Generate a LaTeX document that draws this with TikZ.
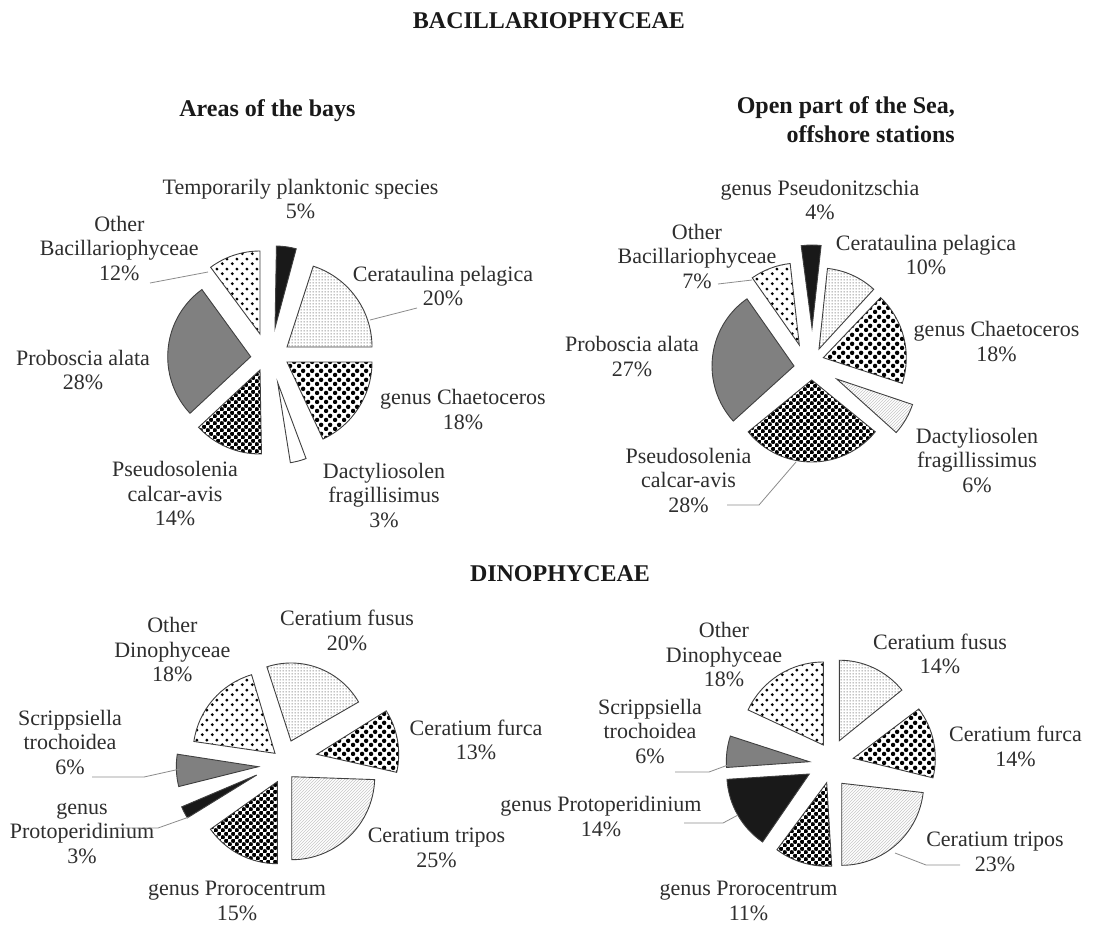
\documentclass[tikz,border=0pt]{standalone}
\usepackage{fontspec}
\setmainfont{Liberation Serif}
\usetikzlibrary{patterns,patterns.meta}

\tikzdeclarepattern{
  name=finedots,
  bounding box={(0pt,0pt) and (3pt,3pt)},
  tile size={(3pt,3pt)},
  code={\pgfpathcircle{\pgfpoint{1.5pt}{1.5pt}}{0.75pt}\pgfusepath{fill}}
}
\tikzdeclarepattern{
  name=bigdots,
  bounding box={(0pt,0pt) and (9pt,9pt)},
  tile size={(9pt,9pt)},
  code={\pgfpathcircle{\pgfpoint{2.25pt}{2.25pt}}{2.45pt}
        \pgfpathcircle{\pgfpoint{6.75pt}{6.75pt}}{2.45pt}\pgfusepath{fill}}
}
\tikzdeclarepattern{
  name=checkdots,
  bounding box={(0pt,0pt) and (7.4pt,7.4pt)},
  tile size={(7.4pt,7.4pt)},
  code={\pgfpathcircle{\pgfpoint{1.85pt}{1.85pt}}{2.35pt}
        \pgfpathcircle{\pgfpoint{5.55pt}{5.55pt}}{2.35pt}\pgfusepath{fill}}
}
\tikzdeclarepattern{
  name=sparsedots,
  bounding box={(0pt,0pt) and (10pt,10pt)},
  tile size={(10pt,10pt)},
  code={\pgfpathcircle{\pgfpoint{2.5pt}{2.5pt}}{1.7pt}
        \pgfpathcircle{\pgfpoint{7.5pt}{7.5pt}}{1.7pt}\pgfusepath{fill}}
}

\tikzset{
  slice/.style={draw=black!75, line width=0.9pt},
  sBlack/.style={fill=black!90},
  sFine/.style={pattern=finedots, pattern color=black!65},
  sBig/.style={pattern=bigdots, pattern color=black},
  sCheck/.style={pattern=checkdots, pattern color=black},
  sSparse/.style={pattern=sparsedots, pattern color=black},
  sGray/.style={fill=black!50},
  sHatch/.style={pattern=north east lines, pattern color=black!22},
  sWhite/.style={fill=white},
  lab/.style={font=\fontsize{22}{24.5}\selectfont, text=black!82, align=center,
    anchor=north, inner sep=0pt, yshift=17.15pt, execute at begin node=\strut},
  ttl/.style={font=\fontsize{24}{28.3}\selectfont\bfseries, text=black!90,
    anchor=base, inner sep=0pt},
  leader/.style={draw=black!45, line width=0.8pt},
}

% #1 style, #2 tip, #3 start angle (clockwise from north), #4 end angle, #5 radius
\newcommand\pslice[5]{%
  \draw[slice,#1] (#2) -- ++({(#3)-90}:#5)
    arc[start angle={(#3)-90}, end angle={(#4)-90}, radius=#5] -- cycle;}

\begin{document}
\begin{tikzpicture}[x=1pt,y=-1pt]
\fill[white] (0,0) rectangle (1099,926);
\useasboundingbox (0,0) rectangle (1099,926);

% ---------- titles ----------
\node[ttl] (tBac) at (549,28) {BACILLARIOPHYCEAE};
\node[ttl] (tBays) at (267.5,116.7) {Areas of the bays};
\node[font=\fontsize{24}{28.3}\selectfont\bfseries, text=black!90, align=right,
  anchor=north east, inner sep=0pt, yshift=19.81pt, execute at begin node=\strut]
  (tOpen) at (955,116.7) {Open part of the Sea,\\offshore stations};
\node[ttl] (tDino) at (560,581) {DINOPHYCEAE};

% ---------- pie 1: areas of the bays ----------
\pslice{sBlack}{275,328}{1}{15}{82}
\pslice{sFine}{287,347}{18}{90}{85}
\pslice{sBig}{287,362}{90}{155}{85}
\pslice{sWhite}{277.7,382.7}{159.5}{171}{81}
\pslice{sCheck}{260,370}{179}{227}{84}
\pslice{sGray}{250.7,356.7}{227}{324}{83}
\pslice{sSparse}{260,334}{323.5}{360}{83}

\node[lab] (p1temp) at (300.5,196) {Temporarily planktonic species\\5\%};
\node[lab] (p1oth) at (119.3,232.7) {Other\\Bacillariophyceae\\12\%};
\node[lab] (p1cer) at (443,283) {Cerataulina pelagica\\20\%};
\node[lab] (p1pro) at (83,366.7) {Proboscia alata\\28\%};
\node[lab] (p1cha) at (463,406.5) {genus Chaetoceros\\18\%};
\node[lab] (p1pse) at (175,478.3) {Pseudosolenia\\calcar-avis\\14\%};
\node[lab] (p1dac) at (384,480) {Dactyliosolen\\fragillisimus\\3\%};

\coordinate (c1a) at (150,283); \coordinate (c1b) at (208,272);
\draw[leader] (c1a) -- (c1b);
\coordinate (c1c) at (370,320); \coordinate (c1d) at (417,308);
\draw[leader] (c1c) -- (c1d);

% ---------- pie 2: open sea ----------
\pslice{sBlack}{812,328}{-7.5}{6.3}{83}
\pslice{sFine}{819,349}{6}{42.5}{81}
\pslice{sBig}{823.3,357.7}{43.6}{108}{83}
\pslice{sHatch}{836.7,379}{108.6}{132}{80}
\pslice{sCheck}{811.7,380}{129.2}{230.8}{82}
\pslice{sGray}{794,366}{227.8}{325}{82}
\pslice{sSparse}{799.3,345}{325}{353.6}{82}

\node[lab] (p2psn) at (820,196.7) {genus Pseudonitzschia\\4\%};
\node[lab] (p2oth) at (697,240.7) {Other\\Bacillariophyceae\\7\%};
\node[lab] (p2cer) at (926,251.7) {Cerataulina pelagica\\10\%};
\node[lab] (p2pro) at (632,353.3) {Proboscia alata\\27\%};
\node[lab] (p2cha) at (996.5,338.3) {genus Chaetoceros\\18\%};
\node[lab] (p2dac) at (977,445) {Dactyliosolen\\fragillissimus\\6\%};
\node[lab] (p2pse) at (688.5,465) {Pseudosolenia\\calcar-avis\\28\%};

\coordinate (c2a) at (718,284); \coordinate (c2b) at (752,280);
\draw[leader] (c2a) -- (c2b);
\coordinate (c2c) at (796,462); \coordinate (c2d) at (759,505); \coordinate (c2e) at (727,505);
\draw[leader] (c2c) -- (c2d) -- (c2e);

% ---------- pie 3: dinophyceae, bays ----------
\pslice{sSparse}{275,753.3}{278.3}{343.4}{82}
\pslice{sFine}{291,741}{342}{420}{78}
\pslice{sBig}{316.7,754.3}{58}{102.7}{82}
\pslice{sHatch}{291.7,776.7}{92}{180}{83}
\pslice{sCheck}{277.3,781.7}{180}{234.6}{82}
\pslice{sBlack}{256.7,775}{238.3}{247}{81.5}
\pslice{sGray}{258.3,766.7}{256}{278.8}{82}

\node[lab] (p3oth) at (172.3,634.3) {Other\\Dinophyceae\\18\%};
\node[lab] (p3fus) at (347,627.3) {Ceratium fusus\\20\%};
\node[lab] (p3fur) at (476,736.7) {Ceratium furca\\13\%};
\node[lab] (p3tri) at (436.5,845) {Ceratium tripos\\25\%};
\node[lab] (p3prc) at (237,898.5) {genus Prorocentrum\\15\%};
\node[lab] (p3prp) at (82,820) {genus\\Protoperidinium\\3\%};
\node[lab] (p3scr) at (70,726.7) {Scrippsiella\\trochoidea\\6\%};

\coordinate (c3a) at (92,777); \coordinate (c3b) at (144,777); \coordinate (c3c) at (180,769);
\draw[leader] (c3a) -- (c3b) -- (c3c);
\coordinate (c3d) at (116,828); \coordinate (c3e) at (158,828); \coordinate (c3f) at (189,817);
\draw[leader] (c3d) -- (c3e) -- (c3f);

% ---------- pie 4: dinophyceae, open sea ----------
\pslice{sSparse}{823.3,745}{295}{360}{83}
\pslice{sFine}{839.3,740.7}{0}{51}{80.5}
\pslice{sBig}{853.3,758.3}{53}{103.8}{82}
\pslice{sHatch}{841.7,783.3}{96.5}{180}{82}
\pslice{sCheck}{826.7,782.7}{176.6}{216.6}{83.5}
\pslice{sBlack}{809.3,774}{214.5}{266.3}{82.5}
\pslice{sGray}{809.3,761.7}{266}{288}{83}

\node[lab] (p4oth) at (724,639.3) {Other\\Dinophyceae\\18\%};
\node[lab] (p4fus) at (940,650.7) {Ceratium fusus\\14\%};
\node[lab] (p4fur) at (1015.5,743.3) {Ceratium furca\\14\%};
\node[lab] (p4tri) at (995,849.3) {Ceratium tripos\\23\%};
\node[lab] (p4prc) at (748.5,898.5) {genus Prorocentrum\\11\%};
\node[lab] (p4prp) at (601,813.3) {genus Protoperidinium\\14\%};
\node[lab] (p4scr) at (650,716) {Scrippsiella\\trochoidea\\6\%};

\coordinate (c4a) at (675,772); \coordinate (c4b) at (709,772); \coordinate (c4c) at (728,765);
\draw[leader] (c4a) -- (c4b) -- (c4c);
\coordinate (c4d) at (684,823); \coordinate (c4e) at (723,823); \coordinate (c4f) at (738,815);
\draw[leader] (c4d) -- (c4e) -- (c4f);
\coordinate (c4g) at (895,853); \coordinate (c4h) at (926,865); \coordinate (c4i) at (960,865);
\draw[leader] (c4g) -- (c4h) -- (c4i);
\end{tikzpicture}
\end{document}
